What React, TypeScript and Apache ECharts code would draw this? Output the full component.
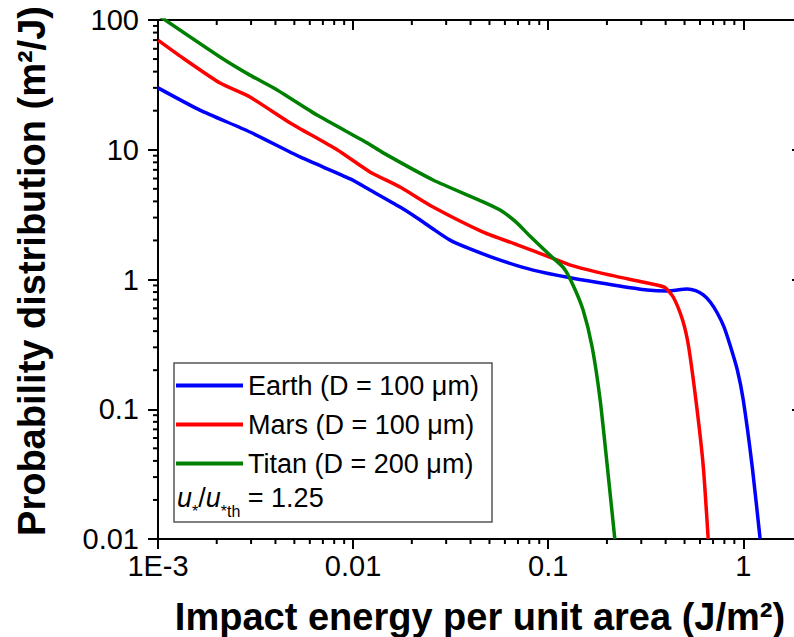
import React, { useEffect, useRef } from 'react';
import * as echarts from 'echarts';

// Earth (D = 100 μm)
const EARTH_ENERGY = [0.001, 0.00164, 0.00296, 0.00535, 0.00967, 0.0122, 0.0174, 0.0213, 0.0257, 0.0314, 0.0398, 0.0567, 0.0837, 0.13, 0.215, 0.322, 0.408, 0.516, 0.57, 0.624, 0.677, 0.736, 0.797, 0.857, 0.932, 1.0, 1.112, 1.22];
const EARTH_PROB = [30, 20.2, 13.7, 8.8, 5.96, 4.9, 3.62, 2.98, 2.45, 2.01, 1.72, 1.41, 1.18, 1.03, 0.908, 0.83, 0.815, 0.845, 0.82, 0.76, 0.671, 0.552, 0.43, 0.31, 0.201, 0.118, 0.0359, 0.01];

// Mars (D = 100 μm)
const MARS_ENERGY = [0.001, 0.00134, 0.00208, 0.00296, 0.00476, 0.00828, 0.0122, 0.0174, 0.0257, 0.0464, 0.0695, 0.1016, 0.13, 0.178, 0.264, 0.36, 0.398, 0.4375, 0.4885, 0.525, 0.58, 0.624, 0.661];
const MARS_PROB = [70, 51, 32.7, 25.5, 16.1, 10.0, 6.75, 5.16, 3.62, 2.32, 1.85, 1.49, 1.29, 1.14, 1.0, 0.908, 0.866, 0.733, 0.487, 0.302, 0.0987, 0.0359, 0.01];

// Titan (D = 200 μm)
const TITAN_ENERGY = [0.001, 0.00208, 0.00296, 0.00408, 0.00654, 0.0118, 0.0142, 0.0257, 0.0464, 0.0567, 0.0685, 0.0806, 0.1016, 0.12, 0.134, 0.151, 0.168, 0.1847, 0.2011, 0.2196];
const TITAN_PROB = [109, 51.9, 37.6, 28.9, 18.5, 11.3, 9.5, 5.85, 3.97, 3.43, 2.77, 2.16, 1.55, 1.23, 0.908, 0.582, 0.302, 0.118, 0.0359, 0.01];

const SERIES_NAMES = ['Earth (D = 100 μm)', 'Mars (D = 100 μm)', 'Titan (D = 200 μm)'];
const SERIES_COLORS = ['#0000FF', '#FF0000', '#008000'];

const X_TICK_VALUES = [0.001, 0.01, 0.1, 1];
const X_TICK_LABELS = ['1E-3', '0.01', '0.1', '1'];
const Y_TICK_VALUES = [0.01, 0.1, 1, 10, 100];
const Y_TICK_LABELS = ['0.01', '0.1', '1', '10', '100'];

const X_MINOR_TICKS = [0.002, 0.003, 0.004, 0.005, 0.006, 0.007, 0.008, 0.009, 0.02, 0.03, 0.04, 0.05, 0.06, 0.07, 0.08, 0.09, 0.2, 0.3, 0.4, 0.5, 0.6, 0.7, 0.8, 0.9];
const Y_MINOR_TICKS = [0.02, 0.03, 0.04, 0.05, 0.06, 0.07, 0.08, 0.09, 0.2, 0.3, 0.4, 0.5, 0.6, 0.7, 0.8, 0.9, 2, 3, 4, 5, 6, 7, 8, 9, 20, 30, 40, 50, 60, 70, 80, 90];

const X_MIN = 0.001;
const X_MAX = 2;
const Y_MIN = 0.01;
const Y_MAX = 100;

const X_TITLE = 'Impact energy per unit area (J/m²)';
const Y_TITLE = 'Probability distribution (m²/J)';

const FONT = '"Liberation Sans", Arial, Helvetica, sans-serif';

function labelFor(values: number[], labels: string[]) {
  return (v: number) => {
    const i = values.findIndex((t) => Math.abs(Math.log10(t) - Math.log10(v)) < 1e-6);
    return i >= 0 ? labels[i] : '';
  };
}

export default function App() {
  const ref = useRef<HTMLDivElement>(null);

  useEffect(() => {
    if (!ref.current) return;
    const chart = echarts.init(ref.current, undefined, { renderer: 'svg' });

    const lineSeries = (name: string, xs: number[], ys: number[], color: string) => ({
      name,
      type: 'line',
      data: xs.map((x, i) => [x, ys[i]]),
      symbol: 'none',
      showSymbol: false,
      smooth: 0.2,
      clip: true,
      lineStyle: { color, width: 3.5 },
      itemStyle: { color },
      z: 3,
    });

    const tickStyle = { color: '#000', width: 2 };

    const option: any = {
      animation: false,
      backgroundColor: '#fff',
      grid: { left: 158, top: 20, width: 644, height: 519, containLabel: false },
      legend: {
        data: SERIES_NAMES,
        orient: 'vertical',
        left: 176,
        top: 372,
        padding: 0,
        icon: 'rect',
        itemWidth: 67,
        itemHeight: 4,
        itemGap: 12,
        textStyle: { fontSize: 27, lineHeight: 26, color: '#000', fontFamily: FONT },
      },
      xAxis: [
        {
          type: 'log',
          min: X_MIN,
          max: X_MAX,
          position: 'bottom',
          axisLine: { lineStyle: tickStyle },
          axisTick: { inside: false, length: 10, lineStyle: tickStyle },
          axisLabel: {
            formatter: labelFor(X_TICK_VALUES, X_TICK_LABELS),
            fontSize: 29,
            color: '#000',
            fontFamily: FONT,
            margin: 12,
          },
          splitLine: { show: false },
        },
        {
          type: 'log',
          min: X_MIN,
          max: X_MAX,
          position: 'top',
          axisLine: { lineStyle: tickStyle },
          axisTick: { inside: true, length: 10, lineStyle: tickStyle },
          axisLabel: { show: false },
          splitLine: { show: false },
        },
      ],
      yAxis: [
        {
          type: 'log',
          min: Y_MIN,
          max: Y_MAX,
          position: 'left',
          axisLine: { lineStyle: tickStyle },
          axisTick: { inside: false, length: 10, lineStyle: tickStyle },
          axisLabel: {
            formatter: labelFor(Y_TICK_VALUES, Y_TICK_LABELS),
            fontSize: 29,
            color: '#000',
            fontFamily: FONT,
            margin: 19,
          },
          splitLine: { show: false },
        },
        {
          type: 'log',
          min: Y_MIN,
          max: Y_MAX,
          position: 'right',
          axisLine: { lineStyle: tickStyle },
          axisTick: { inside: true, length: 10, lineStyle: tickStyle },
          axisLabel: { show: false },
          splitLine: { show: false },
        },
      ],
      series: [
        lineSeries(SERIES_NAMES[0], EARTH_ENERGY, EARTH_PROB, SERIES_COLORS[0]),
        lineSeries(SERIES_NAMES[1], MARS_ENERGY, MARS_PROB, SERIES_COLORS[1]),
        lineSeries(SERIES_NAMES[2], TITAN_ENERGY, TITAN_PROB, SERIES_COLORS[2]),
        {
          type: 'custom',
          name: 'x-minor',
          xAxisIndex: 0,
          yAxisIndex: 0,
          silent: true,
          clip: false,
          z: 5,
          data: X_MINOR_TICKS.map((v) => [v, Y_MIN]),
          renderItem: (params: any, api: any) => {
            const p = api.coord([api.value(0), api.value(1)]);
            const cs = params.coordSys;
            const top = cs.y;
            const bottom = cs.y + cs.height;
            return {
              type: 'group',
              children: [
                { type: 'line', shape: { x1: p[0], y1: bottom, x2: p[0], y2: bottom + 5 }, style: { stroke: '#000', lineWidth: 2 } },
                { type: 'line', shape: { x1: p[0], y1: top, x2: p[0], y2: top + 5 }, style: { stroke: '#000', lineWidth: 2 } },
              ],
            };
          },
        },
        {
          type: 'custom',
          name: 'y-minor',
          xAxisIndex: 0,
          yAxisIndex: 0,
          silent: true,
          clip: false,
          z: 5,
          data: Y_MINOR_TICKS.map((v) => [X_MIN, v]),
          renderItem: (params: any, api: any) => {
            const p = api.coord([api.value(0), api.value(1)]);
            const cs = params.coordSys;
            const left = cs.x;
            const right = cs.x + cs.width;
            return {
              type: 'group',
              children: [
                { type: 'line', shape: { x1: left, y1: p[1], x2: left - 5, y2: p[1] }, style: { stroke: '#000', lineWidth: 2 } },
                { type: 'line', shape: { x1: right, y1: p[1], x2: right - 5, y2: p[1] }, style: { stroke: '#000', lineWidth: 2 } },
              ],
            };
          },
        },
      ],
      graphic: [
        {
          type: 'rect',
          shape: { x: 174, y: 363, width: 318, height: 159 },
          style: { fill: 'none', stroke: '#555', lineWidth: 1.5 },
          z: 1,
        },
        {
          type: 'text',
          x: 177,
          y: 484,
          style: {
            text: '{i|u}{s|*}{n|/}{i|u}{s|*th}{n| = 1.25}',
            textVerticalAlign: 'top',
            fill: '#000',
            font: '27px ' + FONT,
            rich: {
              i: { fontSize: 27, fontStyle: 'italic', fontFamily: FONT, verticalAlign: 'bottom', padding: [0, 0, 8, 0], fill: '#000' },
              n: { fontSize: 27, fontFamily: FONT, verticalAlign: 'bottom', padding: [0, 0, 8, 0], fill: '#000' },
              s: { fontSize: 16, fontFamily: FONT, verticalAlign: 'bottom', fill: '#000' },
            },
          },
          z: 10,
        },
        {
          type: 'text',
          x: 480,
          y: 617,
          style: {
            text: X_TITLE,
            textAlign: 'center',
            textVerticalAlign: 'middle',
            fill: '#000',
            font: 'bold 38px ' + FONT,
          },
        },
        {
          type: 'text',
          x: 32,
          y: 271,
          rotation: Math.PI / 2,
          style: {
            text: Y_TITLE,
            textAlign: 'center',
            textVerticalAlign: 'middle',
            fill: '#000',
            font: 'bold 38px ' + FONT,
          },
        },
      ],
    };

    chart.setOption(option);
    return () => chart.dispose();
  }, []);

  return (
    <div
      ref={ref}
      style={{ position: 'fixed', left: 0, top: 0, width: 810, height: 637, background: '#fff' }}
    />
  );
}
